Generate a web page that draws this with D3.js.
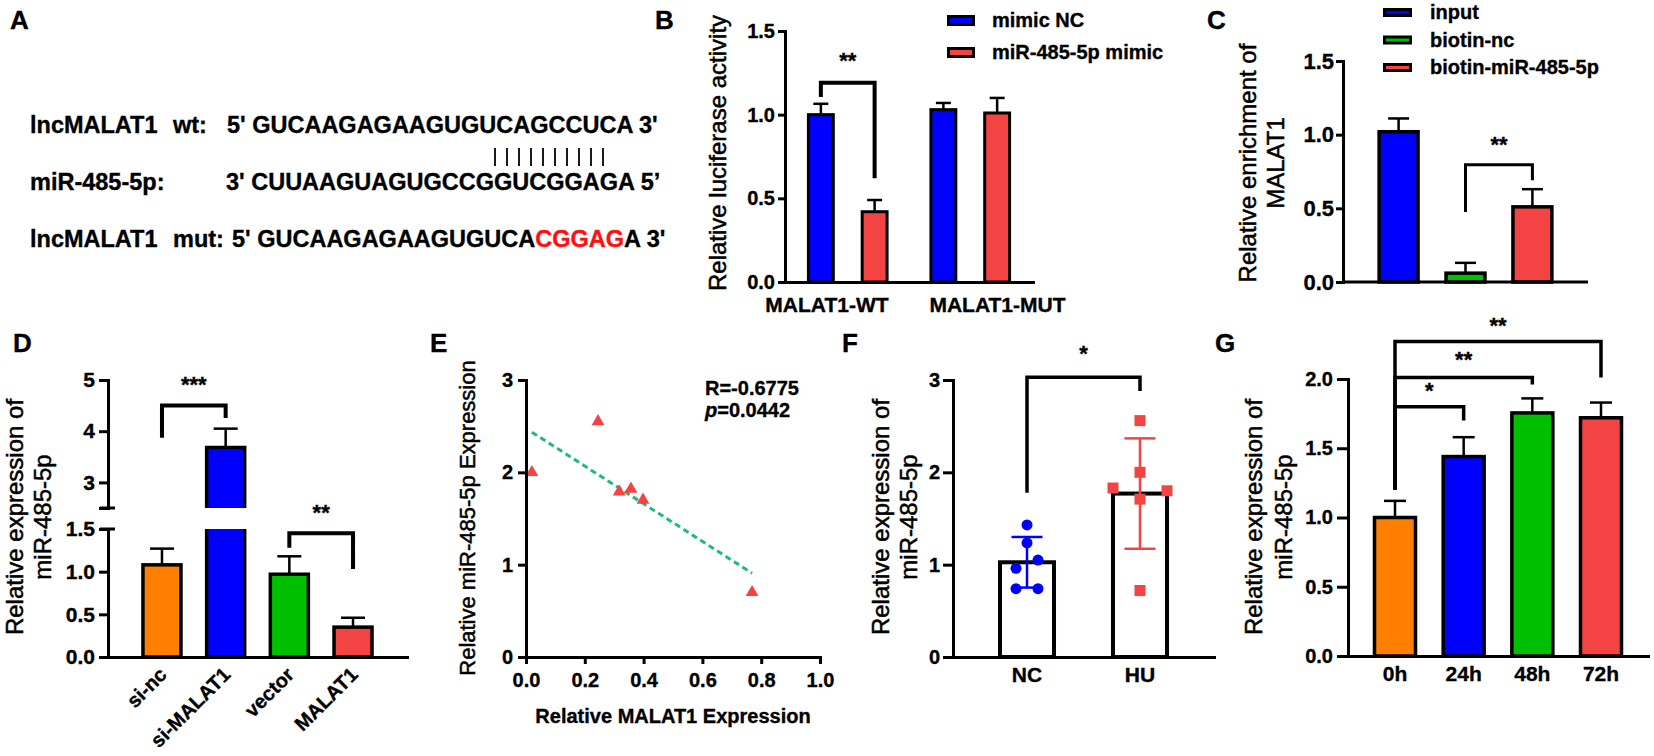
<!DOCTYPE html>
<html>
<head>
<meta charset="utf-8">
<script src="https://cdn.jsdelivr.net/npm/d3@7"></script>
<style>
  body { margin: 0; background: #fff; }
</style>
</head>
<body>
<svg id="fig" width="1654" height="756"></svg>
<script>
// ---------- data ----------
// B: dual luciferase
const lucGroups = ["MALAT1-WT", "MALAT1-MUT"];
const lucSeries = ["mimic NC", "miR-485-5p mimic"];
const lucNC = [1.00, 1.03];
const lucNCErr = [0.065, 0.04];
const lucMimic = [0.42, 1.01];
const lucMimicErr = [0.07, 0.09];
const bTicks = [0, 0.5, 1.0, 1.5];

// C: RNA pull-down
const pullCats = ["input", "biotin-nc", "biotin-miR-485-5p"];
const pullMean = [1.02, 0.06, 0.51];
const pullErr = [0.09, 0.07, 0.12];
const cTicks = [0, 0.5, 1.0, 1.5];

// D: knockdown / overexpression (broken axis)
const dCats = ["si-nc", "si-MALAT1", "vector", "MALAT1"];
const dMean = [1.08, 3.68, 0.97, 0.35];
const dErr = [0.19, 0.37, 0.21, 0.11];
const dTicksLow = [0, 0.5, 1.0, 1.5];
const dTicksHigh = [2.5, 3, 4, 5];

// E: correlation
const eMalat = [0.02, 0.245, 0.317, 0.357, 0.398, 0.769];
const eMir = [2.00, 2.55, 1.79, 1.82, 1.70, 0.70];
const eTicksX = [0, 0.2, 0.4, 0.6, 0.8, 1.0];
const eTicksY = [0, 1, 2, 3];

// F: NC vs HU, individual points
const fCats = ["NC", "HU"];
const fNC = [1.43, 1.235, 1.05, 0.96, 0.74, 0.74];
const fHU = [2.56, 2.00, 1.83, 1.80, 1.71, 0.72];
const fTicks = [0, 1, 2, 3];

// G: time course
const gCats = ["0h", "24h", "48h", "72h"];
const gMean = [1.00, 1.44, 1.755, 1.72];
const gErr = [0.12, 0.14, 0.105, 0.11];
const gTicks = [0, 0.5, 1.0, 1.5, 2.0];

// ---------- setup ----------
const FONT = '"Liberation Sans", Arial, Helvetica, sans-serif';
const BLUE = "#0000ff", RED = "#f44343", GREEN = "#00bf00", ORANGE = "#ff8000";

const svg = d3.select("#fig");
svg.append("rect").attr("width", 1654).attr("height", 756).attr("fill", "#fff");

function txt(x, y, s, size, opts = {}) {
  const col = opts.fill || "#000";
  return svg.append("text")
    .attr("x", x).attr("y", y)
    .attr("font-family", FONT)
    .attr("font-size", size)
    .attr("font-weight", opts.weight || "bold")
    .attr("fill", col)
    .attr("stroke", col).attr("stroke-width", 0.35)
    .attr("text-anchor", opts.anchor || "start")
    .text(s);
}

function inkAxis(g, size) {
  g.attr("font-family", FONT);
  g.select(".domain").attr("stroke", "#000").attr("stroke-width", 3).attr("stroke-linecap", "square");
  g.selectAll(".tick line").attr("stroke", "#000").attr("stroke-width", 3);
  g.selectAll(".tick text")
    .attr("fill", "#000")
    .attr("stroke", "#000").attr("stroke-width", 0.35)
    .attr("font-size", size)
    .attr("font-weight", "bold")
    .attr("font-family", FONT);
}

function yAxis(scale, x, ticks, fmt, size, tick, pad) {
  const g = svg.append("g").attr("transform", `translate(${x},0)`)
    .call(d3.axisLeft(scale).tickValues(ticks).tickFormat(fmt)
      .tickSize(tick).tickSizeOuter(0).tickPadding(pad));
  inkAxis(g, size);
  return g;
}

function xAxis(scale, y, size, labelY) {
  const g = svg.append("g").attr("transform", `translate(0,${y})`)
    .call(d3.axisBottom(scale).tickSize(0).tickSizeOuter(0));
  inkAxis(g, size);
  g.selectAll(".tick text").attr("dy", null).attr("y", labelY);
  return g;
}

function yTitle(lines, x0, cy, size, lh) {
  lines.forEach((t, i) => {
    svg.append("text")
      .attr("transform", `translate(${x0 + i * lh},${cy}) rotate(-90)`)
      .attr("text-anchor", "middle")
      .attr("font-family", FONT)
      .attr("font-size", size)
      .attr("fill", "#000")
      .attr("stroke", "#000").attr("stroke-width", 0.5)
      .text(t);
  });
}

// rows: {x, w, v, e, fill}
function drawBars(rows, y, sw, capHalf) {
  const g = svg.append("g");
  const base = y(0);
  g.selectAll("line.stem").data(rows.filter(d => d.e)).join("line")
    .attr("x1", d => d.x + d.w / 2).attr("x2", d => d.x + d.w / 2)
    .attr("y1", d => y(d.v)).attr("y2", d => y(d.v + d.e))
    .attr("stroke", "#000").attr("stroke-width", 2.5);
  g.selectAll("line.cap").data(rows.filter(d => d.e)).join("line")
    .attr("x1", d => d.x + d.w / 2 - capHalf).attr("x2", d => d.x + d.w / 2 + capHalf)
    .attr("y1", d => y(d.v + d.e)).attr("y2", d => y(d.v + d.e))
    .attr("stroke", "#000").attr("stroke-width", 2.5);
  g.selectAll("rect").data(rows).join("rect")
    .attr("x", d => d.x).attr("y", d => y(d.v))
    .attr("width", d => d.w).attr("height", d => base - y(d.v))
    .attr("fill", d => d.fill)
    .attr("stroke", "#000").attr("stroke-width", sw);
  return g;
}

function bracket(x1, x2, yTop, yL, yR, w) {
  svg.append("path")
    .attr("d", `M${x1},${yL}V${yTop}H${x2}V${yR}`)
    .attr("fill", "none").attr("stroke", "#000").attr("stroke-width", w);
}

function stars(s, x, y) {
  txt(x, y, s, 22, { anchor: "middle" });
}

// ---------- panel labels ----------
[["A", 10, 29], ["B", 655, 29], ["C", 1207, 29],
 ["D", 13, 352], ["E", 430, 352], ["F", 842, 352], ["G", 1215, 352]]
  .forEach(([t, x, y]) => txt(x, y, t, 26));

// ---------- A: sequences ----------
const aSize = 23.5;
txt(30, 133, "lncMALAT1", aSize);
txt(173, 133, "wt:", aSize);
txt(227, 133, "5' GUCAAGAGAAGUGUCAGCCUCA 3'", aSize);
txt(30, 190, "miR-485-5p:", aSize);
txt(226, 190, "3' CUUAAGUAGUGCCGGUCGGAGA 5\u2019", aSize);
txt(30, 247, "lncMALAT1", aSize);
txt(173, 247, "mut:", aSize);
const mut = txt(232, 247, "", aSize);
mut.append("tspan").text("5' GUCAAGAGAAGUGUCA");
mut.append("tspan").attr("fill", "#ff1010").attr("stroke", "#ff1010").text("CGGAG");
mut.append("tspan").text("A 3'");
svg.append("g").selectAll("line").data(d3.range(10)).join("line")
  .attr("x1", i => 495 + i * 12).attr("x2", i => 495 + i * 12)
  .attr("y1", 148).attr("y2", 166)
  .attr("stroke", "#000").attr("stroke-width", 1.8);

// ---------- B ----------
const bY = d3.scaleLinear().domain([0, 1.5]).range([282, 31]);
const bX = d3.scaleBand().domain(lucGroups).range([785, 1033]).paddingInner(0.358).paddingOuter(0.191);
const bSub = d3.scaleBand().domain(lucSeries).range([0, bX.bandwidth()]).paddingInner(0.537);
const bColor = d3.scaleOrdinal().domain(lucSeries).range([BLUE, RED]);
const bRows = lucGroups.flatMap((g, i) => [
  { x: bX(g) + bSub(lucSeries[0]), w: bSub.bandwidth(), v: lucNC[i], e: lucNCErr[i], fill: bColor(lucSeries[0]) },
  { x: bX(g) + bSub(lucSeries[1]), w: bSub.bandwidth(), v: lucMimic[i], e: lucMimicErr[i], fill: bColor(lucSeries[1]) }
]);
drawBars(bRows, bY, 3, 7.5);
yAxis(bY, 785, bTicks, d3.format(".1f"), 20, 7, 3);
{
  const g = xAxis(bX, 282, 21, 30);
  // group labels sit flush with the outer edge of their bar pair, so they don't collide
  const half = bX.bandwidth() / 2 + 1.5;
  g.selectAll(".tick text")
    .attr("text-anchor", (d, i) => (i === 0 ? "end" : "start"))
    .attr("x", (d, i) => (i === 0 ? half : -half));
}
yTitle(["Relative luciferase activity"], 726, 153, 24, 0);
{
  const c1 = bRows[0].x + bRows[0].w / 2, c2 = bRows[1].x + bRows[1].w / 2;
  bracket(c1, c2, bY(1.19), bY(1.105), bY(0.62), 4);
  stars("**", (c1 + c2) / 2, bY(1.28));
}
lucSeries.forEach((s, i) => {
  svg.append("rect").attr("x", 948.5).attr("y", 16.5 + i * 32).attr("width", 25).attr("height", 8)
    .attr("fill", bColor(s)).attr("stroke", "#000").attr("stroke-width", 3);
  txt(992, 27 + i * 32, s, 20);
});

// ---------- C ----------
const cY = d3.scaleLinear().domain([0, 1.5]).range([282, 61]);
const cX = d3.scaleBand().domain(pullCats).range([1343, 1588]).paddingInner(0.418).paddingOuter(0.54);
const cColor = d3.scaleOrdinal().domain(pullCats).range([BLUE, GREEN, RED]);
const cRows = pullCats.map((k, i) => ({ x: cX(k), w: cX.bandwidth(), v: pullMean[i], e: pullErr[i], fill: cColor(k) }));
drawBars(cRows, cY, 3.5, 10.5);
yAxis(cY, 1343, cTicks, d3.format(".1f"), 22, 7, 2);
svg.append("line").attr("x1", 1343).attr("x2", 1588).attr("y1", 282).attr("y2", 282)
  .attr("stroke", "#000").attr("stroke-width", 3);
yTitle(["Relative enrichment of", "MALAT1"], 1256, 163, 24, 28);
{
  const c1 = cX(pullCats[1]) + cX.bandwidth() / 2, c2 = cX(pullCats[2]) + cX.bandwidth() / 2;
  bracket(c1, c2, cY(0.795), cY(0.475), cY(0.69), 3);
  stars("**", (c1 + c2) / 2, cY(0.88));
}
pullCats.forEach((k, i) => {
  svg.append("rect").attr("x", 1384.5).attr("y", 9.5 + i * 27.5).attr("width", 26).attr("height", 6)
    .attr("fill", cColor(k)).attr("stroke", "#000").attr("stroke-width", 3);
  txt(1430, 19 + i * 27.5, k, 20);
});

// ---------- D (broken y axis) ----------
const dLow = d3.scaleLinear().domain([0, 1.5]).range([657, 529]);
const dHigh = d3.scaleLinear().domain([2.5, 5]).range([508, 380]);
const dVal = v => (v <= 1.5 ? dLow(v) : dHigh(v));
const dX = d3.scaleBand().domain(dCats).range([108, 407]).paddingInner(0.403).paddingOuter(0.549);
const dColor = d3.scaleOrdinal().domain(dCats).range([ORANGE, BLUE, GREEN, RED]);
{
  const g = svg.append("g");
  dCats.forEach((k, i) => {
    const x = dX(k), w = dX.bandwidth(), cx = x + w / 2, v = dMean[i];
    const top = dVal(v + dErr[i]);
    g.append("line").attr("x1", cx).attr("x2", cx).attr("y1", dVal(v)).attr("y2", top)
      .attr("stroke", "#000").attr("stroke-width", 2.5);
    g.append("line").attr("x1", cx - 12).attr("x2", cx + 12).attr("y1", top).attr("y2", top)
      .attr("stroke", "#000").attr("stroke-width", 2.5);
    if (v <= 1.5) {
      g.append("rect").attr("x", x).attr("y", dLow(v)).attr("width", w).attr("height", dLow(0) - dLow(v))
        .attr("fill", dColor(k)).attr("stroke", "#000").attr("stroke-width", 3.5);
    } else {
      // bar crosses the break: two open-ended pieces
      g.append("rect").attr("x", x).attr("y", dLow(1.5)).attr("width", w).attr("height", dLow(0) - dLow(1.5))
        .attr("fill", dColor(k));
      g.append("rect").attr("x", x).attr("y", dHigh(v)).attr("width", w).attr("height", dHigh(2.5) - dHigh(v))
        .attr("fill", dColor(k));
      g.append("path").attr("d", `M${x},${dLow(1.5)}V${dLow(0)}H${x + w}V${dLow(1.5)}`)
        .attr("fill", "none").attr("stroke", "#000").attr("stroke-width", 3.5);
      g.append("path").attr("d", `M${x},${dHigh(2.5)}V${dHigh(v)}H${x + w}V${dHigh(2.5)}`)
        .attr("fill", "none").attr("stroke", "#000").attr("stroke-width", 3.5);
    }
  });
}
yAxis(dLow, 108, dTicksLow, d3.format(".1f"), 21, 9, 4);
yAxis(dHigh, 108, dTicksHigh, d => (d === 2.5 ? "" : d3.format("d")(d)), 21, 9, 4);
[dHigh(2.5), dLow(1.5)].forEach(yy => {
  svg.append("line").attr("x1", 100).attr("x2", 115).attr("y1", yy).attr("y2", yy)
    .attr("stroke", "#000").attr("stroke-width", 3);
});
{
  const g = svg.append("g").attr("transform", "translate(0,657)")
    .call(d3.axisBottom(dX).tickSize(0).tickSizeOuter(0));
  inkAxis(g, 20);
  g.selectAll(".tick text")
    .attr("dy", null).attr("y", null)
    .attr("text-anchor", "end")
    .attr("transform", "translate(6,19) rotate(-45)");
}
yTitle(["Relative expression of", "miR-485-5p"], 23, 517, 24, 28);
{
  const cx = k => dX(k) + dX.bandwidth() / 2;
  bracket(cx("si-nc"), cx("si-MALAT1"), dHigh(4.5), dHigh(3.87), dHigh(4.26), 4);
  stars("***", (cx("si-nc") + cx("si-MALAT1")) / 2, dHigh(4.77));
  bracket(cx("vector"), cx("MALAT1"), dLow(1.45), dLow(1.28), dLow(1.03), 4);
  stars("**", (cx("vector") + cx("MALAT1")) / 2, dLow(1.61));
}

// ---------- E: scatter + regression ----------
const eX = d3.scaleLinear().domain([0, 1]).range([526, 820]);
const eY = d3.scaleLinear().domain([0, 3]).range([657, 380]);
{
  const mx = d3.mean(eMalat), my = d3.mean(eMir);
  const sxy = d3.sum(eMalat, (x, i) => (x - mx) * (eMir[i] - my));
  const sxx = d3.sum(eMalat, x => (x - mx) * (x - mx));
  const slope = sxy / sxx, icpt = my - slope * mx;
  const [x0, x1] = d3.extent(eMalat);
  svg.append("line")
    .attr("x1", eX(x0)).attr("y1", eY(icpt + slope * x0))
    .attr("x2", eX(x1)).attr("y2", eY(icpt + slope * x1))
    .attr("stroke", "#1fb985").attr("stroke-width", 3).attr("stroke-dasharray", "6,4");
  svg.append("g").selectAll("path").data(eMalat).join("path")
    .attr("d", d3.symbol(d3.symbolTriangle, 72))
    .attr("transform", (x, i) => `translate(${eX(x)},${eY(eMir[i])})`)
    .attr("fill", RED);
}
{
  const g = svg.append("g").attr("transform", "translate(0,657)")
    .call(d3.axisBottom(eX).tickValues(eTicksX).tickFormat(d3.format(".1f")).tickSize(7).tickSizeOuter(0));
  inkAxis(g, 20);
  g.selectAll(".tick text").attr("dy", null).attr("y", 30);
}
yAxis(eY, 526, eTicksY, d3.format("d"), 20, 8, 5);
yTitle(["Relative miR-485-5p Expression"], 475, 518, 22, 0);
txt(673, 723, "Relative MALAT1 Expression", 20, { anchor: "middle" });
txt(705, 395, "R=-0.6775", 20);
{
  const t = txt(705, 417, "", 20);
  t.append("tspan").attr("font-style", "italic").text("p");
  t.append("tspan").text("=0.0442");
}

// ---------- F: bars with points ----------
const fY = d3.scaleLinear().domain([0, 3]).range([657, 380]);
const fX = d3.scaleBand().domain(fCats).range([953, 1214]).paddingInner(0.522).paddingOuter(0.416);
const fSets = [fNC, fHU];
const fColor = d3.scaleOrdinal().domain(fCats).range([BLUE, RED]);
{
  const rows = fCats.map((k, i) => ({ x: fX(k), w: fX.bandwidth(), v: d3.mean(fSets[i]), fill: "#fff" }));
  drawBars(rows, fY, 4, 0);
  fCats.forEach((k, i) => {
    const cx = fX(k) + fX.bandwidth() / 2;
    const m = d3.mean(fSets[i]), sd = d3.deviation(fSets[i]);
    const col = fColor(k);
    const g = svg.append("g");
    g.append("line").attr("x1", cx).attr("x2", cx).attr("y1", fY(m - sd)).attr("y2", fY(m + sd))
      .attr("stroke", col).attr("stroke-width", 2.5);
    [m - sd, m + sd].forEach(v => {
      g.append("line").attr("x1", cx - 15.5).attr("x2", cx + 15.5).attr("y1", fY(v)).attr("y2", fY(v))
        .attr("stroke", col).attr("stroke-width", 2.5);
    });
    // simple column scatter: points with nearly equal y share a row and spread sideways
    const pts = fSets[i].map(v => ({ v, y: fY(v) })).sort((a, b) => a.y - b.y);
    const rowsP = [];
    pts.forEach(p => {
      const last = rowsP[rowsP.length - 1];
      if (last && p.y - last[0].y < 12) last.push(p); else rowsP.push([p]);
    });
    rowsP.forEach(r => {
      const slots = r.length === 1 ? [0] : r.length === 2 ? [1, -1] : [-1, 1, 0];
      const spread = r.length === 2 ? 11 : 27;
      r.forEach((p, j) => { p.x = cx + slots[j] * spread; });
    });
    if (i === 0) {
      g.selectAll("circle").data(pts).join("circle")
        .attr("cx", d => d.x).attr("cy", d => d.y).attr("r", 5.5).attr("fill", col);
    } else {
      g.selectAll("rect").data(pts).join("rect")
        .attr("x", d => d.x - 5.5).attr("y", d => d.y - 5.5).attr("width", 11).attr("height", 11).attr("fill", col);
    }
  });
}
yAxis(fY, 953, fTicks, d3.format("d"), 20, 10, 3);
xAxis(fX, 657, 21, 25);
yTitle(["Relative expression of", "miR-485-5p"], 889, 517, 24, 28);
{
  const c1 = fX("NC") + fX.bandwidth() / 2, c2 = fX("HU") + fX.bandwidth() / 2;
  bracket(c1, c2, fY(3.03), fY(1.78), fY(2.88), 3.5);
  stars("*", (c1 + c2) / 2, fY(3.21));
}

// ---------- G ----------
const gY = d3.scaleLinear().domain([0, 2]).range([656, 379]);
const gX = d3.scaleBand().domain(gCats).range([1348, 1648]).paddingInner(0.403).paddingOuter(0.386);
const gColor = d3.scaleOrdinal().domain(gCats).range([ORANGE, BLUE, GREEN, RED]);
const gRows = gCats.map((k, i) => ({ x: gX(k), w: gX.bandwidth(), v: gMean[i], e: gErr[i], fill: gColor(k) }));
drawBars(gRows, gY, 3.5, 11);
yAxis(gY, 1348, gTicks, d3.format(".1f"), 20, 11, 4);
xAxis(gX, 656, 21, 25);
yTitle(["Relative expression of", "miR-485-5p"], 1262, 517, 24, 30);
{
  const cx = k => gX(k) + gX.bandwidth() / 2;
  const base = cx("0h");
  [["24h", 1.80, 1.70, 1.86, "*"],
   ["48h", 2.01, 1.96, 2.09, "**"],
   ["72h", 2.27, 2.01, 2.33, "**"]].forEach(([k, top, rEnd, sY, s]) => {
    bracket(base, cx(k), gY(top), gY(1.20), gY(rEnd), 3.5);
    stars(s, (base + cx(k)) / 2, gY(sY));
  });
}
</script>
</body>
</html>
